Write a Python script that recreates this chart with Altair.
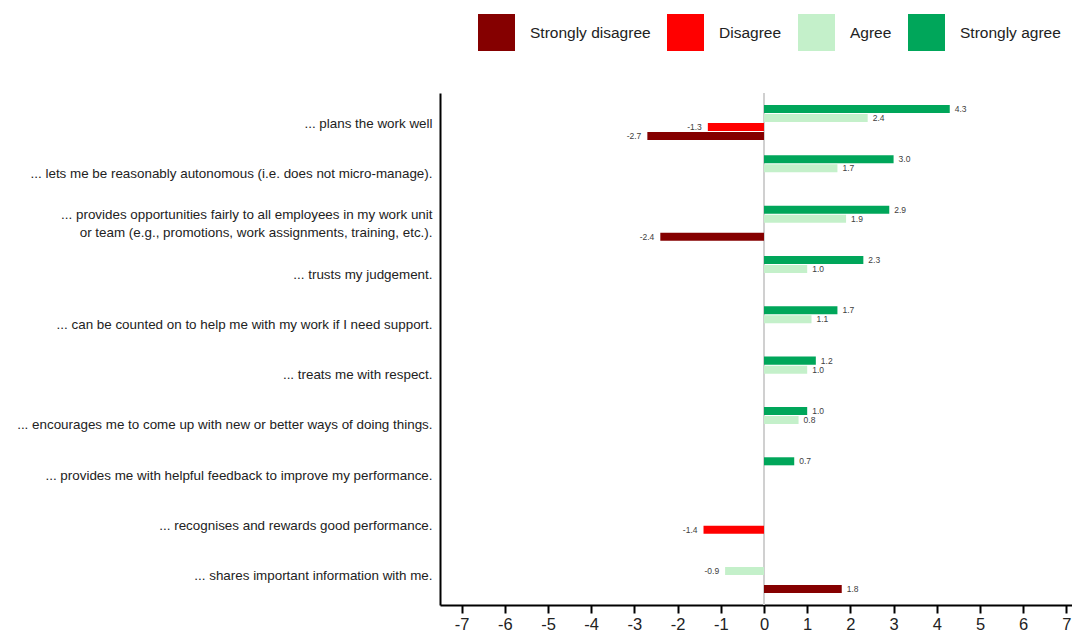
import altair as alt
import pandas as pd

categories = [
    "... plans the work well",
    "... lets me be reasonably autonomous (i.e. does not micro-manage).",
    "... provides opportunities fairly to all employees in my work unit|or team (e.g., promotions, work assignments, training, etc.).",
    "... trusts my judgement.",
    "... can be counted on to help me with my work if I need support.",
    "... treats me with respect.",
    "... encourages me to come up with new or better ways of doing things.",
    "... provides me with helpful feedback to improve my performance.",
    "... recognises and rewards good performance.",
    "... shares important information with me.",
]

series_names = ["Strongly disagree", "Disagree", "Agree", "Strongly agree"]
series_colors = ["#850000", "#FF0000", "#C4F0CA", "#00A65A"]
offset_order = ["Strongly agree", "Agree", "Disagree", "Strongly disagree"]

strongly_agree = [4.3, 3.0, 2.9, 2.3, 1.7, 1.2, 1.0, 0.7, None, None]
agree = [2.4, 1.7, 1.9, 1.0, 1.1, 1.0, 0.8, None, None, -0.9]
disagree = [-1.3, None, None, None, None, None, None, None, -1.4, None]
strongly_disagree = [-2.7, None, -2.4, None, None, None, None, None, None, 1.8]

x_ticks = [-7, -6, -5, -4, -3, -2, -1, 0, 1, 2, 3, 4, 5, 6, 7]

rows = []
for name, vals in [("Strongly agree", strongly_agree), ("Agree", agree),
                   ("Disagree", disagree), ("Strongly disagree", strongly_disagree)]:
    for cat, v in zip(categories, vals):
        if v is not None:
            rows.append({"item": cat, "level": name, "value": v,
                         "label": f"{v:.1f}"})
df = pd.DataFrame(rows)

FONT = "Liberation Sans, Arial, sans-serif"

y_enc = alt.Y("item:N", sort=categories, title=None,
              scale=alt.Scale(paddingInner=0.285, paddingOuter=0.229),
              axis=alt.Axis(labelExpr="split(datum.label, '|')", ticks=False,
                            domainColor="black", domainWidth=2,
                            labelFontSize=13.4, labelColor="#222222",
                            labelFont=FONT, labelPadding=8, labelLimit=0,
                            labelLineHeight=18,
                            labelOffset=alt.condition("indexof(datum.value, '|') >= 0",
                                                      alt.value(-8), alt.value(1))))
yoff_enc = alt.YOffset("level:N", sort=offset_order,
                       scale=alt.Scale(domain=offset_order, paddingInner=0.11, paddingOuter=0.05))
x_scale = alt.Scale(domain=[-7.5, 7.13], nice=False, zero=False)

base = alt.Chart(df)

bars = base.mark_bar().encode(
    x=alt.X("value:Q", scale=x_scale, title=None,
            axis=alt.Axis(values=x_ticks, grid=False, domainColor="black",
                          domainWidth=2, tickColor="black", tickWidth=2,
                          tickSize=8, labelFontSize=16.5, labelColor="#222222",
                          labelFont=FONT, labelPadding=3,
                          labelExpr="'' + datum.value")),
    x2=alt.datum(0),
    y=y_enc,
    yOffset=yoff_enc,
    color=alt.Color("level:N",
                    scale=alt.Scale(domain=series_names, range=series_colors),
                    legend=alt.Legend(title=None, orient="none", direction="horizontal",
                                      legendX=38, legendY=-79, symbolType="square",
                                      symbolSize=1369, symbolStrokeWidth=0,
                                      labelFontSize=15.5, labelFont=FONT,
                                      labelColor="#222222", labelOffset=15,
                                      columnPadding=16, padding=0,
                                      symbolOpacity=1)),
)

zero_rule = alt.Chart(pd.DataFrame({"z": [0]})).mark_rule(
    color="#d0d0d0", strokeWidth=2).encode(x=alt.X("z:Q", scale=x_scale))

pos_text = base.transform_filter("datum.value >= 0").mark_text(
    align="left", baseline="middle", dx=5, fontSize=8.5, color="#404040", font=FONT
).encode(x=alt.X("value:Q", scale=x_scale), y=alt.Y("item:N", sort=categories),
         yOffset=yoff_enc, text="label:N")

neg_text = base.transform_filter("datum.value < 0").mark_text(
    align="right", baseline="middle", dx=-6, fontSize=8.5, color="#404040", font=FONT
).encode(x=alt.X("value:Q", scale=x_scale), y=alt.Y("item:N", sort=categories),
         yOffset=yoff_enc, text="label:N")

chart = alt.layer(zero_rule, bars, pos_text, neg_text).properties(
    width=632, height=512,
    autosize=alt.AutoSizeParams(type="none"),
    padding={"left": 432, "top": 85, "right": 0, "bottom": 30},
).configure_view(stroke=None)

chart.save("out.html", embed_options={"renderer": "svg", "actions": False})
